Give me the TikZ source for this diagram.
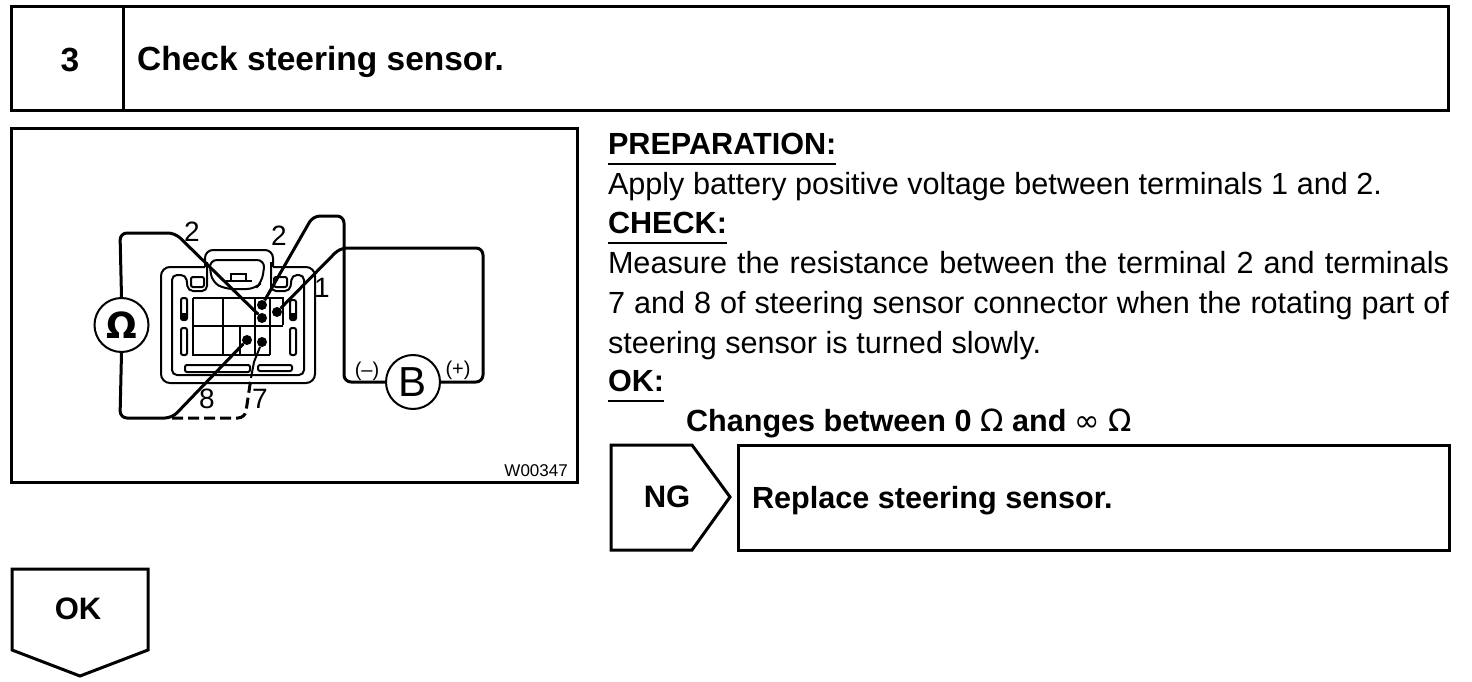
\documentclass[tikz,border=0pt]{standalone}
\usepackage{fontspec}
\setmainfont{Liberation Sans}
\newfontfamily\symfont{DejaVu Sans}
\usetikzlibrary{calc}
\tikzset{
  frame/.style={draw=black,line width=3pt,line join=miter},
  boxframe/.style={frame,outer sep=0pt,inner sep=0pt,anchor=north west},
  rulel/.style={draw=black,line width=1.4pt},
  wire/.style={draw=black,line width=3pt,rounded corners=7pt},
  outline/.style={draw=black,line width=2pt},
  meter/.style={circle,draw=black,line width=2pt,fill=white,minimum size=54pt,inner sep=0pt},
  pin/.style={circle,fill=black,minimum size=10pt,inner sep=0pt},
  tl/.style={anchor=base west,inner sep=0pt,outer sep=0pt,font=\fontsize{30.6}{30.6}\selectfont},
  tb/.style={anchor=base west,inner sep=0pt,outer sep=0pt,font=\fontsize{30.6}{30.6}\selectfont\bfseries},
  bigb/.style={inner sep=0pt,font=\fontsize{31}{31}\selectfont\bfseries},
  num/.style={inner sep=0pt,font=\fontsize{28}{28}\selectfont},
  pol/.style={inner sep=0pt,font=\fontsize{20}{20}\selectfont},
}
\begin{document}
\begin{tikzpicture}[x=1pt,y=-1pt]
\useasboundingbox (0,0) rectangle (1472,682);
% header
\node[boxframe,minimum width=1437pt,minimum height=104pt] (head) at (11,7) {};
\coordinate (divt) at (123,7); \coordinate (divb) at (123,111);
\draw[frame] (divt) -- (divb);
\node[inner sep=0pt,font=\fontsize{33.5}{33.5}\selectfont\bfseries] (num3) at (70,60) {3};
\node[anchor=base west,inner sep=0pt,font=\fontsize{33.5}{33.5}\selectfont\bfseries] (title) at (137,71) {Check steering sensor.};
% figure frame
\node[boxframe,minimum width=566pt,minimum height=353pt] (fig) at (11,129) {};
\node[anchor=base east,inner sep=0pt,font=\fontsize{17}{17}\selectfont] (code) at (568,476) {W00347};
% connector body
\draw[outline,rounded corners=9pt] (205,267) -- (161,267) -- (161,383) -- (315,383) -- (315,267) -- (273,267);
\draw[outline,rounded corners=5pt] (207,262) -- (207,291) -- (188,291) -- (186,275) -- (172,275) -- (172,375) -- (304,375) -- (304,275) -- (292,275) -- (290,291) -- (271,291) -- (271,262);
\draw[outline,rounded corners=8pt] (205,267) -- (205,250) -- (273,250) -- (273,267);
\draw[outline,rounded corners=8pt] (209,260) -- (212,282) -- (225,289) -- (255,289) -- (262,282) -- (265,260) -- cycle;
\draw[outline] (231,274) rectangle (246,281);
\draw[outline] (226,281) -- (252,281);
\draw[outline,rounded corners=2pt] (191,277) rectangle (204,287);
\draw[outline,rounded corners=2pt] (274,277) rectangle (287,287);
\draw[outline,line width=2.4pt] (193,298) -- (283,298) -- (283,325) (193,298) -- (193,355) -- (270,355);
\draw[outline,line width=2.4pt] (193,326) -- (283,326);
\draw[outline] (223,298) -- (223,355) (240,326) -- (240,355);
\draw[outline,line width=2.6pt] (255,298) -- (255,355) (270,298) -- (270,355);
\draw[outline,rounded corners=2pt] (181,298) rectangle (187,320);
\draw[outline,rounded corners=2pt] (181,328) rectangle (187,355);
\draw[outline,rounded corners=2pt] (290,300) rectangle (296,320);
\draw[outline,rounded corners=2pt] (290,328) rectangle (296,355);
\fill[black] (181,313) rectangle (187,320) (290,313) rectangle (296,320);
\draw[outline,rounded corners=2pt] (185,365) rectangle (250,372);
\draw[outline,rounded corners=2pt] (258,365) rectangle (292,371);
% pins and meters
\node[pin] (pa) at (262,305) {};
\node[pin] (pb) at (277,312) {};
\node[pin] (pc) at (262,318) {};
\node[pin] (pd) at (247,340) {};
\node[pin] (pe) at (262,342) {};
\node[meter,font=\fontsize{36}{36}\selectfont\bfseries] (ohm) at (121.5,325) {\symfont Ω};
\node[meter,font=\fontsize{42}{42}\selectfont] (bat) at (413,382) {B};
% wires
\coordinate (ohmtop) at (120,233);
\coordinate (omegaknee) at (175,233);
\coordinate (ohmbot) at (120,418);
\coordinate (bend) at (172,418);
\coordinate (dashend) at (245,418);
\coordinate (dashup) at (251,378);
\coordinate (stem) at (254,362);
\draw[wire] (ohm.north) -- (ohmtop) -- (omegaknee) -- (pc);
\draw[wire] (ohm.south) -- (ohmbot) -- (bend) -- (pd);
\draw[wire,dash pattern=on 11pt off 5pt] (bend) -- (dashend) -- (dashup);
\draw[draw=black,line width=2pt] (dashup) -- (stem) -- (pe);
\coordinate (ak) at (313,216);
\coordinate (al) at (344,216);
\coordinate (bl) at (344,382);
\coordinate (tl) at (340,248);
\coordinate (tr) at (483,248);
\coordinate (br) at (483,382);
\draw[wire] (pa) -- (ak) -- (al) -- (bl) -- (bat.west);
\draw[wire] (pb) -- (tl) -- (tr) -- (br) -- (bat.east);
% labels
\node[num] (l2a) at (192,232) {2};
\node[num] (l2b) at (279,236) {2};
\node[num] (l1) at (322,288) {1};
\node[num] (l8) at (207,399) {8};
\node[num] (l7) at (260,399) {7};
\node[pol] (lm) at (367,371) {(--)};
\node[pol] (lp) at (458,370) {(+)};
% text
\node[tb] (prep) at (608,154) {PREPARATION:};
\draw[rulel] (prep.base west) ++(0,10) -- ++(228,0);
\node[tl] (t1) at (608,194) {Apply battery positive voltage between terminals 1 and 2.};
\node[tb] (chk) at (608,233) {CHECK:};
\draw[rulel] (chk.base west) ++(0,10) -- ++(119,0);
\node[tl] (t2) at (608,273) {\makebox[841pt][s]{Measure the resistance between the terminal 2 and terminals}};
\node[tl] (t3) at (608,313) {\makebox[841pt][s]{7 and 8 of steering sensor connector when the rotating part of}};
\node[tl] (t4) at (608,353) {steering sensor is turned slowly.};
\node[tb] (okh) at (608,391) {OK:};
\draw[rulel] (okh.base west) ++(0,10) -- ++(56,0);
\node[tb] (chg) at (686,431) {Changes between 0 {\symfont\mdseries Ω} and {\symfont\mdseries ∞} {\symfont\mdseries Ω}};
% NG
\draw[frame] (611,445) -- (692,445) -- (730,497) -- (692,550) -- (611,550) -- cycle;
\node[bigb] (ng) at (667,497) {NG};
\node[boxframe,minimum width=711pt,minimum height=105pt] (rep) at (738,445) {};
\node[tb] (rept) at (752,508) {Replace steering sensor.};
% OK
\draw[frame] (12,569) -- (148,569) -- (148,650) -- (80,676) -- (12,650) -- cycle;
\node[bigb] (ok) at (78,609) {OK};
\end{tikzpicture}
\end{document}
